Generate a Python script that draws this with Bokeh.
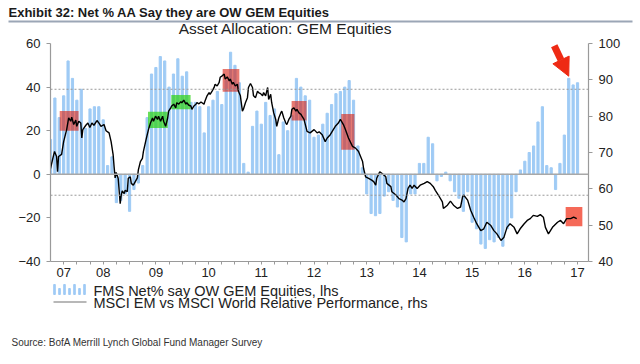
from bokeh.plotting import figure
from bokeh.layouts import column
from bokeh.models import Range1d, LinearAxis, FixedTicker, Span, Arrow, NormalHead
from bokeh.core.properties import value
from bokeh.embed import file_html
from bokeh.resources import INLINE

# ---------------- data ----------------
FIRST_MONTH = 6  # months after Jan 2007 of first survey bar (Jul 2007)

# FMS net % overweight GEM equities (monthly, lhs)
fms_net = [16, 35, 26, 36, 52, 44, 34, 39, 21, 30,
           31, 31, 25, 4, 8, -13, -12, -9, -17, -7,
           -4, 4, 26, 46, 49, 54, 52, 40, 46, 53,
           45, 47, 33, 33, 31, 19, 31, 34, 38, 32,
           43, 56, 50, 42, 5, 1, 22, 29, 23, 33,
           27, 30, 9, 24, 20, 27, 44, 40, 36, 34,
           17, 18, 23, 28, 32, 37, 38, 40, 43, 34,
           13, 3, -9, -18, -19, -18, -10, -8, -12, -15,
           -29, -31, -9, -9, 5, 5, 17, 14, -3, -1,
           1, -3, -8, -11, -17, -8, -22, -25, -32, -34,
           -30, -31, -29, -33, -25, -20, -8, 2, 6, 10,
           13, 24, 31, 4, 3, -7, 5, 18, 44, 41,
           42]

# MSCI EM vs MSCI World relative performance (weeks after Jul 2007, rhs)
rel_weeks = [0, 2, 4, 6, 7, 8, 11, 13, 16, 18,
             20, 21, 23, 25, 26, 28, 30, 31, 32, 35,
             37, 39, 41, 43, 46, 48, 50, 53, 55, 58,
             60, 62, 63, 64, 65, 67, 69, 70, 71, 73,
             74, 76, 77, 79, 80, 82, 83, 86, 87, 89,
             91, 92, 95, 97, 99, 101, 102, 104, 106, 107,
             109, 111, 112, 114, 116, 117, 119, 120, 122, 124,
             125, 127, 129, 130, 132, 134, 135, 137, 139, 140,
             142, 144, 145, 147, 149, 150, 152, 153, 155, 157,
             158, 160, 162, 163, 165, 167, 168, 170, 172, 173,
             175, 177, 178, 180, 181, 183, 185, 186, 188, 190,
             191, 193, 195, 196, 198, 200, 201, 203, 205, 206,
             208, 210, 211, 213, 215, 216, 218, 219, 221, 223,
             224, 226, 228, 229, 231, 233, 234, 236, 238, 239,
             241, 243, 244, 246, 248, 249, 251, 254, 257, 261,
             264, 266, 269, 272, 274, 277, 280, 282, 285, 287,
             290, 292, 295, 299, 302, 305, 309, 310, 312, 315,
             318, 320, 322, 323, 326, 328, 332, 333, 337, 338,
             342, 345, 348, 350, 352, 354, 356, 358, 360, 363,
             366, 370, 373, 376, 379, 381, 384, 388, 389, 393,
             396, 399, 403, 406, 408, 409, 413, 416, 419, 422,
             426, 429, 432, 436, 439, 442, 446, 449, 452, 455,
             459, 462, 465, 469, 472, 475, 478, 482, 485, 488,
             490, 493, 497, 502, 505, 508, 511, 515, 518, 521]
rel_perf = [65.6, 68, 70.3, 68.9, 64.7, 68.9, 69.5, 73, 76.3, 79.5,
            78.6, 79.7, 77.7, 78.9, 77.2, 78.6, 78.1, 74, 76.3, 77.5,
            78.1, 76.9, 78.1, 77.5, 78.8, 78.1, 77.2, 77.7, 76, 75.4,
            73, 69.4, 66, 63, 64.5, 62.9, 55.9, 58.2, 59.4, 58.7,
            59.6, 59.2, 62.9, 63.3, 61.5, 61, 61.5, 63, 65.2, 67.5,
            68.4, 70.3, 74, 76.3, 78.1, 79.5, 78.6, 80, 79.1, 80,
            78.6, 80, 78.6, 77.2, 79.5, 81.4, 82.3, 82.8, 83.3, 82.3,
            83.7, 83.3, 84, 83.7, 84.4, 83.3, 83.7, 83, 82.8, 81.9,
            82.8, 83.3, 83.7, 83.4, 83.9, 83.7, 83.3, 84.2, 85.6, 86.5,
            86, 86.9, 87.9, 88.8, 88.3, 89.3, 90.7, 91.1, 91.6, 90.2,
            90.8, 89.7, 90.2, 88.8, 89.3, 88.3, 88.8, 86.9, 85.6, 81.4,
            81.9, 83.7, 85.1, 87.9, 89, 87.9, 85.6, 85.1, 86.9, 86.5,
            86.2, 85.6, 86.5, 85.6, 87.9, 84.6, 86, 83.7, 80.9, 79.1,
            77.2, 79.5, 80.9, 81.4, 79.5, 78.1, 77.7, 79.1, 80, 81.9,
            82.3, 81.4, 81.9, 80.9, 80.5, 80, 79.1, 75.8, 75.4, 76.3,
            75.4, 75.7, 74.9, 73, 74, 74.9, 76.3, 77.2, 78.1, 79.1,
            77.7, 76.3, 74, 71.7, 71.2, 70.3, 67.5, 65.6, 63.3, 62.9,
            62.4, 62, 61, 62.9, 64.7, 64.3, 63.3, 61.5, 60.6, 59.2,
            58.3, 57.3, 56.9, 56.4, 57.3, 60.1, 61, 60.1, 61, 60.1,
            61, 61.5, 62, 61.5, 60.6, 59.6, 58.3, 56.4, 54.6, 55.5,
            56.6, 55.5, 54.6, 55, 57.8, 58.3, 56.9, 54.1, 52.2, 50.4,
            48.5, 49, 50.8, 49.9, 48.5, 47.6, 45.8, 46.7, 49.4, 50.4,
            49.4, 47.6, 49, 50.4, 51.3, 51.8, 52.7, 52.4, 52.9, 52.2,
            49.4, 47.6, 49.4, 50.8, 51.3, 50.4, 51.8, 51.8, 52.2, 51.8]

year_labels = ["07", "08", "09", "10", "11", "12", "13", "14", "15", "16", "17"]
left_ticks = [-40, -20, 0, 20, 40, 60]
right_ticks = [40, 50, 60, 70, 80, 90, 100]
band_upper = 39.0    # lhs, dotted reference lines
band_lower = -9.6

# highlighted periods (months after Jan 2007) and rhs value ranges
hl_start = [8.1, 28.2, 33.5, 45.2, 60.9, 72.2, 123.3]
hl_end = [12.4, 32.7, 37.9, 49.0, 64.3, 75.2, 127.1]
hl_low = [76.0, 76.75, 81.9, 86.75, 78.8, 70.75, 49.7]
hl_high = [81.4, 81.2, 85.8, 93.0, 84.2, 80.6, 55.0]
hl_color = ["#d9261a", "#2fd31b", "#2fd31b", "#d9261a", "#d9261a", "#d9261a", "#f2442e"]
hl_alpha = [0.62, 0.72, 0.72, 0.62, 0.62, 0.62, 0.8]

title_text = "Exhibit 32: Net % AA Say they are OW GEM Equities"
subtitle_text = "Asset Allocation: GEM Equities"
legend_texts = ["FMS Net% say OW GEM Equities, lhs",
                "MSCI EM vs MSCI World Relative Performance, rhs"]
source_text = "Source: BofA Merrill Lynch Global Fund Manager Survey"

# ---------------- styling constants ----------------
GRAY = "#9a9a9a"
FONT = "Liberation Sans"
BAR_BLUE = "#9fcbf5"
W = 640
HEADER_H, MAIN_H, FOOTER_H = 37, 244, 83


def blank(height):
    # y measured downward from the top of this strip, x equals page x
    f = figure(width=W, height=height, output_backend="svg", toolbar_location=None,
               x_range=Range1d(0, W), y_range=Range1d(height, 0),
               x_axis_location=None, y_axis_location=None,
               min_border=0, min_border_left=0, min_border_right=0,
               min_border_top=0, min_border_bottom=0)
    f.xgrid.visible = False
    f.ygrid.visible = False
    f.outline_line_color = None
    f.frame_align = False
    return f


# ---------------- header ----------------
head = blank(HEADER_H)
head.text(x=[8], y=[11.5], text=[title_text], text_font=value(FONT),
          text_font_style="bold", text_font_size="13px", text_color="#1a1a1a",
          text_baseline="middle", text_align="left")
head.quad(left=[8], right=[632], top=[20], bottom=[22], fill_color="#9ba6b6",
          line_color=None)
head.text(x=[285], y=[28.3], text=[subtitle_text], text_font=value(FONT),
          text_font_size="15.5px", text_color="#222222",
          text_baseline="middle", text_align="center")

# ---------------- main chart ----------------
bar_x = [FIRST_MONTH + i for i in range(len(fms_net))]
line_x = [FIRST_MONTH + w * 12 / 52.18 for w in rel_weeks]
n_years = len(year_labels)
label_pos = [FIRST_MONTH + 3] + [12 * k + 6 for k in range(1, n_years)]
quarter_ticks = [m for m in range(9, 127, 3)]

p = figure(width=W, height=MAIN_H, output_backend="svg", toolbar_location=None,
           x_range=Range1d(FIRST_MONTH, 128.5), y_range=Range1d(-40, 60),
           min_border_left=50, min_border_right=52, min_border_top=6,
           min_border_bottom=20)
p.frame_align = False
p.extra_y_ranges = {"rhs": Range1d(40, 100)}
p.xgrid.visible = False
p.ygrid.visible = False
p.outline_line_color = None

left = p.yaxis[0]
left.ticker = FixedTicker(ticks=left_ticks)
right = LinearAxis(y_range_name="rhs", ticker=FixedTicker(ticks=right_ticks))
p.add_layout(right, "right")
bottom = p.xaxis[0]
bottom.ticker = FixedTicker(ticks=label_pos, minor_ticks=quarter_ticks)
bottom.major_label_overrides = {pos: lab for pos, lab in zip(label_pos, year_labels)}

for ax in (left, right, bottom):
    ax.axis_line_color = GRAY
    ax.axis_line_width = 1.2
    ax.major_tick_line_color = GRAY
    ax.minor_tick_line_color = GRAY
    ax.major_tick_in = 0
    ax.minor_tick_in = 0
    ax.major_label_text_font = FONT
    ax.major_label_text_font_size = "13px"
    ax.major_label_text_color = "#222222"
for ax in (left, right):
    ax.major_tick_out = 4
    ax.minor_tick_out = 0
    ax.major_label_standoff = 6
bottom.major_tick_out = 0
bottom.minor_tick_out = 3
bottom.major_label_standoff = 3

p.vbar(x=bar_x, top=fms_net, bottom=0, width=0.5, color=BAR_BLUE)
p.quad(left=hl_start, right=hl_end, bottom=hl_low, top=hl_high, y_range_name="rhs",
       fill_color=hl_color, fill_alpha=hl_alpha, line_color=None)
p.add_layout(Span(location=0, dimension="width", line_color="#a8a8a8", line_width=1.6))
for loc in (band_upper, band_lower):
    p.add_layout(Span(location=loc, dimension="width", line_color="#999999",
                      line_width=1, line_dash="2 2"))
p.line(line_x, rel_perf, y_range_name="rhs", line_color="black", line_width=1.4)

recent = fms_net[-12:]
peak_i = len(fms_net) - 12 + recent.index(max(recent))
px, pv = bar_x[peak_i], fms_net[peak_i]
p.add_layout(Arrow(end=NormalHead(size=18, fill_color="#ee2a14", line_color="#ee2a14"),
                   x_start=px - 3.3, y_start=pv + 15, x_end=px, y_end=pv + 1,
                   line_color="#ee2a14", line_width=7))

# ---------------- footer (legend + source) ----------------
foot = blank(FOOTER_H)
icon_heights = [10, 6, 10, 6, 10, 6, 10]
icon_x = [54 + 5 * k for k in range(len(icon_heights))]
foot.vbar(x=icon_x, bottom=[13] * len(icon_x), top=[13 - h for h in icon_heights],
          width=1.6, color=BAR_BLUE)
foot.segment(x0=[53], x1=[86], y0=[20.5], y1=[20.5], line_color="#a0a0a0", line_width=1.5)
foot.text(x=[93, 93], y=[9, 21], text=legend_texts, text_font=value(FONT),
          text_font_size="14.5px", text_color="#222222", text_baseline="middle",
          text_align="left")
foot.text(x=[11], y=[61], text=[source_text], text_font=value(FONT),
          text_font_size="10px", text_color="#333333", text_baseline="middle",
          text_align="left")

layout = column(head, p, foot, spacing=0)
open("out.html", "w").write(file_html(layout, INLINE))
